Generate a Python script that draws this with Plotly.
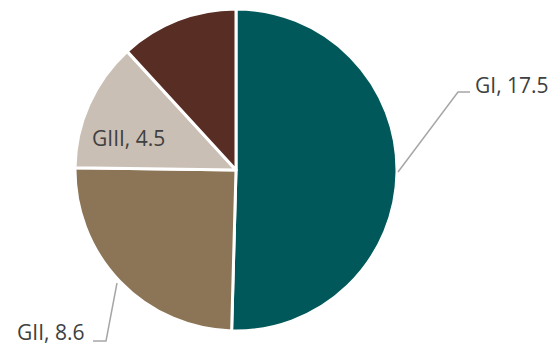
import plotly.graph_objects as go

categories = ["GI", "GII", "GIII", "GIV"]
values = [17.5, 8.6, 4.5, 4.1]
colors = ["#00585A", "#8C7556", "#C9BFB5", "#582D24"]
shown_labels = ["GI, 17.5", "GII, 8.6", "GIII, 4.5"]

W, H = 559, 345
fig = go.Figure(go.Pie(
    labels=categories, values=values, sort=False, direction="clockwise", rotation=0,
    marker=dict(colors=colors, line=dict(color="white", width=3)),
    textinfo="none", hoverinfo="label+value", showlegend=False,
    domain=dict(x=[75/W, 397/W], y=[1-331/H, 1-9/H]),
))

font = dict(family="Open Sans, sans-serif", size=21, color="#404040")
def px(x, y):
    return x / W, 1 - y / H

ax, ay = px(473, 85)
fig.add_annotation(x=ax, y=ay, xref="paper", yref="paper", text=shown_labels[0],
                   showarrow=False, xanchor="left", yanchor="middle", font=font)
ax, ay = px(86, 332)
fig.add_annotation(x=ax, y=ay, xref="paper", yref="paper", text=shown_labels[1],
                   showarrow=False, xanchor="right", yanchor="middle", font=font)
ax, ay = px(128, 138)
fig.add_annotation(x=ax, y=ay, xref="paper", yref="paper", text=shown_labels[2],
                   showarrow=False, xanchor="center", yanchor="middle", font=font)

line = dict(color="#A6A6A6", width=1.5)
for pts in [[(398, 172), (458, 92), (470, 92)], [(117, 283), (106, 341), (93, 341)]]:
    path = "M " + " L ".join(f"{px(x, y)[0]},{px(x, y)[1]}" for x, y in pts)
    fig.add_shape(type="path", path=path, xref="paper", yref="paper", line=line)

fig.update_layout(width=W, height=H, margin=dict(l=0, r=0, t=0, b=0),
                  paper_bgcolor="white", plot_bgcolor="white")
fig.write_html("out.html", config={"displayModeBar": False},
               post_script="document.body.style.margin='0';document.body.style.overflow='hidden';")
